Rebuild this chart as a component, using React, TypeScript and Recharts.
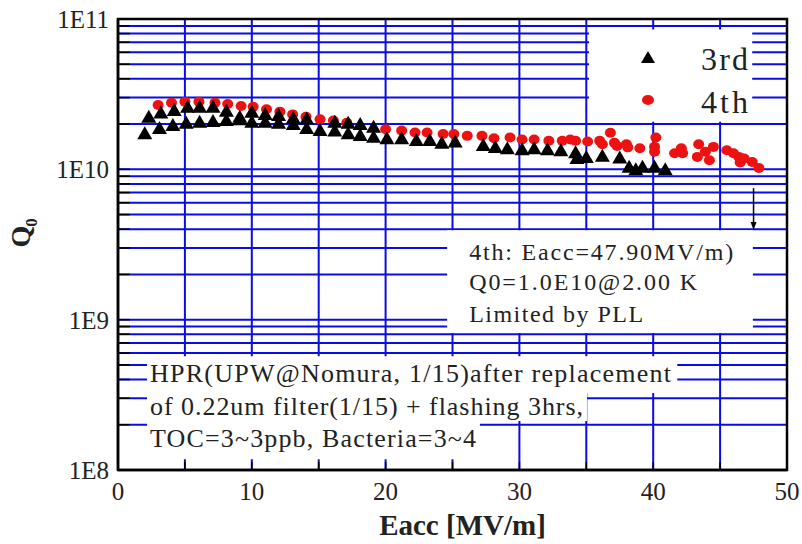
import React from "react";
import {
  ScatterChart,
  Scatter,
  XAxis,
  YAxis,
  CartesianGrid,
  ReferenceArea,
  ReferenceLine,
  Legend,
} from "recharts";

const SERIF = '"Liberation Serif", "Times New Roman", serif';
const BLUE = "#0b0be6";
const RED = "#ee1111";
const INK = "#222";

// 3rd test (black triangles)
const eacc3 = [
  2.0, 2.3, 3.1, 3.2, 4.1, 4.2, 5.1, 5.2, 6.1, 6.1, 7.1, 7.1, 8.1, 8.1, 9.1, 9.1, 10.0, 10.0,
  11.0, 11.0, 12.0, 12.0, 13.1, 13.1, 14.1, 14.1, 15.1, 16.2, 16.2, 17.2, 17.2, 18.1, 18.1,
  19.1, 19.1, 20.1, 21.2, 22.3, 23.3, 24.2, 25.2, 27.3, 28.2, 29.1, 30.2, 31.1, 32.1, 33.1,
  34.2, 34.3, 35.0, 36.2, 37.5, 38.2, 38.7, 39.2, 40.1, 40.9,
];
const q3 = [
  1.74e10, 2.24e10, 1.88e10, 2.39e10, 1.97e10, 2.48e10, 2.04e10, 2.61e10, 2.07e10, 2.61e10,
  2.1e10, 2.61e10, 2.13e10, 2.45e10, 2.15e10, 2.24e10, 2.07e10, 2.42e10, 2.07e10, 2.33e10,
  2.04e10, 2.3e10, 2.0e10, 2.2e10, 1.88e10, 2.18e10, 1.83e10, 1.81e10, 2.07e10, 1.74e10,
  2.04e10, 2.0e10, 1.69e10, 1.92e10, 1.65e10, 1.61e10, 1.61e10, 1.57e10, 1.57e10, 1.5e10,
  1.53e10, 1.45e10, 1.41e10, 1.38e10, 1.36e10, 1.38e10, 1.36e10, 1.34e10, 1.3e10, 1.19e10,
  1.21e10, 1.23e10, 1.2e10, 1.04e10, 1.0e10, 1.04e10, 1.04e10, 1.0e10,
];

// 4th test (red dots)
const eacc4 = [
  3.0, 4.0, 5.0, 6.05, 7.25, 8.2, 9.2, 10.1, 11.1, 12.1, 13.05, 14.05, 15.1, 16.1, 17.1, 20.0,
  21.2, 22.2, 23.1, 24.3, 25.1, 26.1, 27.2, 28.1, 29.3, 30.2, 31.1, 32.2, 33.2, 33.8, 34.2,
  35.1, 36.0, 36.2, 36.8, 37.1, 37.3, 38.0, 38.1, 39.0, 40.1, 40.2, 40.1, 41.6, 42.1, 42.2,
  43.4, 43.3, 43.9, 44.2, 44.5, 45.5, 46.0, 46.4, 46.5, 46.8, 47.4, 47.9,
];
const q4 = [
  2.68e10, 2.77e10, 2.82e10, 2.82e10, 2.77e10, 2.72e10, 2.64e10, 2.61e10, 2.51e10, 2.42e10,
  2.32e10, 2.24e10, 2.15e10, 2.11e10, 2.04e10, 1.85e10, 1.81e10, 1.76e10, 1.76e10, 1.72e10,
  1.72e10, 1.67e10, 1.67e10, 1.61e10, 1.63e10, 1.58e10, 1.58e10, 1.55e10, 1.55e10, 1.58e10,
  1.55e10, 1.53e10, 1.55e10, 1.47e10, 1.75e10, 1.5e10, 1.43e10, 1.47e10, 1.4e10, 1.38e10,
  1.41e10, 1.63e10, 1.31e10, 1.28e10, 1.38e10, 1.28e10, 1.47e10, 1.21e10, 1.31e10, 1.15e10,
  1.41e10, 1.34e10, 1.28e10, 1.21e10, 1.11e10, 1.18e10, 1.12e10, 1.02e10,
];

const xTicks = [0, 5, 10, 15, 20, 25, 30, 35, 40, 45, 50];
const xLabels = [0, 10, 20, 30, 40, 50];
const decades = [1e8, 1e9, 1e10, 1e11];
const decadeLabels = ["1E8", "1E9", "1E10", "1E11"];
const minorSteps = [1, 2, 3, 4, 5, 6, 7, 8, 9];
const yTicks = [
  ...decades.slice(0, 3).flatMap((d) => minorSteps.map((m) => m * d)),
  1e11,
];

const noteLines = [
  "HPR(UPW@Nomura, 1/15)after replacement",
  "of 0.22um filter(1/15) + flashing 3hrs,",
  "TOC=3~3ppb, Bacteria=3~4",
];
const resultLines = ["4th: Eacc=47.90MV/m)", "Q0=1.0E10@2.00 K", "Limited by PLL"];

const data3 = eacc3.map((x, i) => ({ x, q: q3[i] }));
const data4 = eacc4.map((x, i) => ({ x, q: q4[i] }));

const Triangle = (p: any) => (
  <polygon
    points={`${p.cx},${p.cy - 7} ${p.cx - 7.5},${p.cy + 6} ${p.cx + 7.5},${p.cy + 6}`}
    fill="#000"
  />
);
const RedDot = (p: any) => <ellipse cx={p.cx} cy={p.cy} rx={5.5} ry={5} fill={RED} />;

const textBlock =
  (lines: string[], dx: number, baselines: number[], widths: number[], size: number) =>
  (props: any) => {
    const vb = props.viewBox;
    return (
      <g>
        {lines.map((l, i) => (
          <text
            key={i}
            x={vb.x + dx}
            y={vb.y + baselines[i]}
            fontSize={size}
            fontFamily={SERIF}
            fill={INK}
            textLength={widths[i]}
            lengthAdjust="spacing"
          >
            {l}
          </text>
        ))}
      </g>
    );
  };

const YLabel = (props: any) => {
  const vb = props.viewBox;
  const cx = vb.x + 30;
  const cy = vb.y + vb.height / 2 + 3;
  return (
    <text
      transform={`translate(${cx},${cy}) rotate(-90)`}
      fontFamily={SERIF}
      fontWeight="bold"
      fill={INK}
      fontSize={28}
    >
      Q
      <tspan fontSize={17} dy={7} dx={-1}>
        0
      </tspan>
    </text>
  );
};

const XLabel = (props: any) => {
  const vb = props.viewBox;
  return (
    <text
      x={vb.x + vb.width / 2 + 10}
      y={vb.y + 65}
      textAnchor="middle"
      fontFamily={SERIF}
      fontWeight="bold"
      fontSize={29}
      fill={INK}
    >
      Eacc [MV/m]
    </text>
  );
};

const Arrow = (p: any) => (
  <g>
    <line x1={p.x1} y1={p.y1} x2={p.x2} y2={p.y2 - 6} stroke="#000" strokeWidth={1.5} />
    <polygon points={`${p.x2},${p.y2} ${p.x2 - 3},${p.y2 - 8} ${p.x2 + 3},${p.y2 - 8}`} fill="#000" />
  </g>
);

const LegendBox = () => (
  <svg width={140} height={95} style={{ display: "block" }}>
    <polygon points="18,21 11,33 25,33" fill="#000" />
    <text x={71} y={40} fontSize={32} fontFamily={SERIF} fill={INK} textLength={47}>
      3rd
    </text>
    <ellipse cx={18} cy={70} rx={6} ry={5} fill={RED} />
    <text x={71} y={83} fontSize={32} fontFamily={SERIF} fill={INK} textLength={47}>
      4th
    </text>
  </svg>
);

export default function App() {
  return (
    <div style={{ position: "absolute", left: 0, top: 0, width: 802, height: 544, background: "#fff" }}>
      <ScatterChart width={802} height={544} margin={{ top: 19, right: 15, bottom: 0, left: 0 }}>
        <CartesianGrid stroke={BLUE} strokeWidth={2} />
        <XAxis
          type="number"
          dataKey="x"
          domain={[0, 50]}
          ticks={xTicks}
          interval={0}
          tickFormatter={(v: number) => (xLabels.includes(v) ? String(v) : "")}
          height={74}
          tickSize={-8}
          tickMargin={20}
          tickLine={{ stroke: "#000", strokeWidth: 1.5 }}
          axisLine={{ stroke: "#000", strokeWidth: 2.5 }}
          tick={{ fontSize: 25, fontFamily: SERIF, fill: INK }}
          label={XLabel}
        />
        <YAxis
          type="number"
          dataKey="q"
          scale="log"
          domain={[1e8, 1e11]}
          allowDataOverflow
          ticks={yTicks}
          interval={0}
          tickFormatter={(v: number) => {
            const i = decades.indexOf(v);
            return i >= 0 ? decadeLabels[i] : "";
          }}
          width={118}
          tickSize={-12}
          tickMargin={21}
          tickLine={{ stroke: "#000", strokeWidth: 1.5 }}
          axisLine={{ stroke: "#000", strokeWidth: 2.5 }}
          tick={{ fontSize: 25, fontFamily: SERIF, fill: INK }}
          label={YLabel}
        />

        {/* white boxes behind the notes, they hide the grid */}
        <ReferenceArea x1={35.2} x2={47.4} y1={2.07e10} y2={8.5e10} fill="#fff" fillOpacity={1} stroke="none" />
        <ReferenceArea
          x1={24.6}
          x2={47.45}
          y1={8.15e8}
          y2={3.94e9}
          fill="#fff"
          fillOpacity={1}
          stroke="none"
          label={textBlock(resultLines, 22, [30, 60, 92], [264, 228, 174], 24)}
        />
        <ReferenceArea
          x1={2.17}
          x2={41.8}
          y1={3.25e8}
          y2={5.72e8}
          fill="#fff"
          fillOpacity={1}
          stroke="none"
          label={textBlock([noteLines[0]], 3, [26], [521], 26)}
        />
        <ReferenceArea
          x1={2.17}
          x2={35.05}
          y1={2.115e8}
          y2={3.25e8}
          fill="#fff"
          fillOpacity={1}
          stroke="none"
          label={textBlock([noteLines[1]], 3, [22], [433], 26)}
        />
        <ReferenceArea
          x1={2.17}
          x2={27.05}
          y1={1.18e8}
          y2={2.115e8}
          fill="#fff"
          fillOpacity={1}
          stroke="none"
          label={textBlock([noteLines[2]], 3, [26], [326], 26)}
        />

        <Scatter name="4th" data={data4} shape={RedDot} isAnimationActive={false} />
        <Scatter name="3rd" data={data3} shape={Triangle} isAnimationActive={false} />

        <ReferenceLine
          segment={[
            { x: 47.5, y: 7.5e9 },
            { x: 47.5, y: 3.95e9 },
          ]}
          shape={Arrow}
          ifOverflow="visible"
        />
        <ReferenceArea x1={0} x2={50} y1={1e8} y2={1e11} fill="none" stroke="#000" strokeWidth={2.5} ifOverflow="visible" />

        <Legend
          layout="horizontal"
          verticalAlign="middle"
          content={LegendBox}
          wrapperStyle={{ position: "absolute", left: 630, top: 30, width: 140, height: 95 }}
        />
      </ScatterChart>
    </div>
  );
}
